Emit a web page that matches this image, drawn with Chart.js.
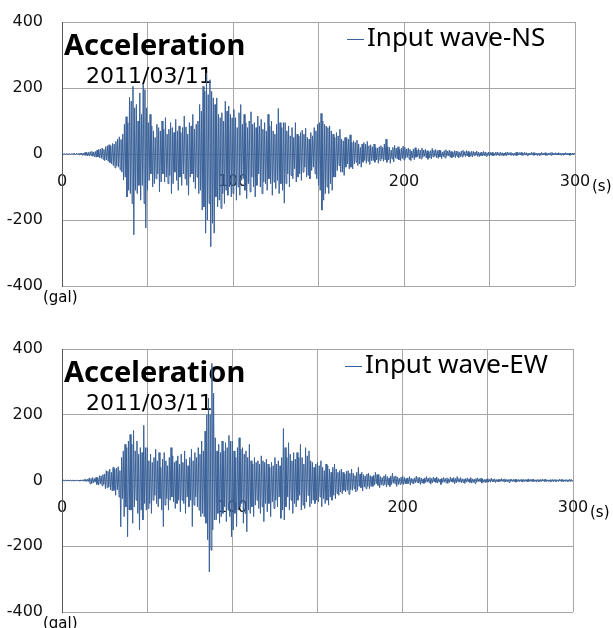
<!DOCTYPE html>
<html>
<head>
<meta charset="utf-8">
<script src="https://cdn.jsdelivr.net/npm/chart.js@4/dist/chart.umd.min.js"></script>
<style>
  body { margin: 0; background: #fff; }
  canvas { display: block; }
</style>
</head>
<body>
<canvas id="chartNS" width="613" height="316"></canvas>
<canvas id="chartEW" width="613" height="312"></canvas>
<script>
// sampling step of the read-off waveforms (s)
const timeStep = 0.5;

// NS acceleration (gal), every 0.5 s from 0 to 300 s (one row = 10 s)
const nsWave = [
  0, 1, -1, 1, -1, 1, -1, 1, -1, 1, -1, 1, -1, 2, -1, 1, -2, 2, -1, 2,
  -2, 3, -2, 3, -4, 3, -4, 5, -4, 5, -6, 5, -6, 7, -5, 8, -7, 6, -9, 8,
  -10, 12, -9, 14, -12, 15, -13, 18, -16, 14, -20, 22, -18, 25, -22, 28, -26, 24, -30, 32,
  -35, 30, -42, 38, -36, 45, -40, 52, -48, 44, -55, 60, -79, 90, -70, 113, -130, 95, -110, 172,
  -120, 160, -150, 205, -245, 140, -110, 150, -120, 100, -95, 185, -140, 120, -95, 210, -150, 195, -224, 140,
  -110, 95, -80, 120, -60, 85, -100, 70, -90, 50, -75, 90, -60, 80, -115, 70, -85, 100, -60, 75,
  -85, 110, -70, 60, -90, 75, -65, 95, -120, 80, -90, 65, -55, 105, -80, 70, -110, 85, -70, 65,
  -95, 80, -60, 115, -75, 82, -95, 60, -125, 95, -70, 85, -60, 120, -85, 75, -105, 90, -70, 100,
  -120, 150, -110, 130, -170, 205, -160, 190, -240, 245, -200, 180, -150, 225, -281, 190, -210, 170, -240, 150,
  -130, 170, -160, 120, -140, 110, -165, 125, -120, 100, -150, 160, -110, 130, -125, 145, -100, 120, -130, 110,
  -120, 135, -90, 110, -140, 80, -100, 125, -125, 150, -80, 90, -75, 120, -110, 95, -135, 80, -90, 100,
  -115, 128, -70, 90, -100, 95, -130, 80, -95, 115, -60, 85, -100, 105, -120, 75, -85, 95, -90, 70,
  -110, 120, -75, 85, -90, 100, -125, 70, -85, 60, -105, 90, -80, 138, -120, 95, -90, 80, -110, 95,
  -149, 95, -90, 70, -60, 85, -100, 55, -65, 80, -75, 50, -45, 95, -85, 60, -70, 55, -60, 65,
  -80, 72, -55, 60, -40, 78, -70, 50, -65, 45, -75, 65, -50, 55, -40, 80, -60, 70, -75, 90,
  -95, 95, -110, 123, -170, 100, -140, 90, -120, 85, -100, 80, -120, 85, -90, 70, -110, 60, -70, 50,
  -70, 65, -50, 55, -35, 75, -55, 45, -55, 40, -65, 50, -40, 50, -30, 45, -45, 58, -40, 35,
  -45, 40, -30, 35, -25, 42, -35, 30, -30, 20, -40, 30, -25, 35, -20, 30, -28, 38, -22, 25,
  -32, 28, -20, 22, -20, 30, -25, 20, -18, 18, -28, 22, -20, 25, -15, 20, -22, 30, -18, 45,
  -25, 22, -18, 20, -28, 12, -15, 20, -24, 26, -12, 18, -15, 22, -18, 15, -20, 18, -14, 24,
  -18, 20, -12, 15, -10, 18, -16, 14, -20, 9, -12, 15, -17, 19, -10, 12, -8, 16, -14, 12,
  -15, 18, -10, 12, -7, 14, -12, 10, -16, 8, -12, 10, -15, 17, -9, 11, -7, 14, -11, 10,
  -13, 12, -9, 10, -14, 6, -8, 10, -12, 13, -7, 9, -6, 12, -10, 8, -11, 6, -9, 10,
  -11, 9, -7, 8, -12, 5, -8, 9, -9, 11, -5, 7, -8, 10, -6, 8, -9, 5, -7, 8,
  -9, 8, -5, 6, -4, 9, -7, 6, -8, 4, -5, 6, -6, 8, -5, 6, -7, 4, -5, 6,
  -6, 5, -4, 5, -6, 3, -4, 5, -5, 6, -3, 4, -5, 5, -4, 4, -6, 3, -4, 5,
  -5, 6, -3, 4, -3, 5, -4, 3, -5, 3, -4, 5, -5, 6, -3, 4, -3, 5, -4, 3,
  -4, 5, -3, 4, -5, 3, -4, 3, -3, 5, -3, 4, -4, 4, -3, 3, -5, 3, -4, 3,
  -4, 5, -3, 3, -3, 4, -4, 3, -4, 3, -3, 4, -4, 5, -3, 3, -3, 4, -3, 3,
  -3, 4, -3, 3, -4, 3, -3, 3, -3, 4, -3, 3, -3, 3, -4, 3, -3, 3, -3, 3,
  0
];

// EW acceleration (gal), every 0.5 s from 0 to 300 s (one row = 10 s)
const ewWave = [
  0, -1, 1, -1, 1, -1, 1, -1, 1, -1, 1, -1, 1, -1, 1, -1, 1, -2, 1, -1,
  1, -2, 2, -1, 2, -2, 3, -2, 3, -3, 4, -3, 8, -10, 6, -9, 9, -7, 6, -5,
  10, -12, 8, -14, 15, -10, 14, -16, 18, -12, 20, -25, 30, -22, 28, -20, 35, -28, 25, -32,
  40, -30, 35, -45, 38, -28, 42, -50, 30, -141, 70, -55, 90, -110, 110, -80, 100, -171, 120, -90,
  140, -90, 110, -130, 152, -80, 90, -60, 120, -100, 80, -150, 100, -90, 85, -120, 168, -70, 100, -90,
  100, -85, 60, -70, 80, -100, 55, -60, 70, -45, 95, -70, 60, -80, 85, -55, 40, -90, 65, -140,
  85, -75, 60, -55, 45, -90, 70, -60, 100, -50, 75, -65, 55, -85, 60, -70, 75, -60, 50, -95,
  80, -60, 55, -70, 90, -100, 65, -50, 45, -80, 70, -60, 95, -140, 60, -75, 85, -50, 70, -80,
  100, -90, 80, -110, 120, -100, 90, -110, 150, -130, 200, -180, 250, -278, 200, -212, 356, -150, 265, -120,
  130, -120, 90, -100, 110, -130, 85, -110, 120, -100, 90, -80, 115, -125, 100, -90, 137, -110, 120, -171,
  120, -150, 90, -100, 70, -140, 100, -90, 130, -80, 95, -70, 100, -130, 80, -100, 90, -156, 70, -90,
  110, -100, 60, -80, 50, -110, 70, -75, 55, -60, 60, -85, 50, -100, 75, -80, 60, -125, 55, -70,
  65, -95, 50, -70, 40, -110, 55, -65, 45, -85, 70, -60, 50, -80, 60, -50, 45, -115, 70, -90,
  158, -120, 100, -80, 70, -50, 115, -90, 80, -60, 60, -100, 85, -70, 65, -80, 85, -60, 70, -45,
  110, -90, 70, -75, 50, -85, 100, -65, 75, -45, 90, -80, 60, -70, 55, -60, 40, -70, 50, -60,
  55, -65, 45, -50, 60, -80, 40, -55, 30, -70, 50, -60, 45, -75, 35, -50, 25, -60, 40, -45,
  50, -55, 35, -40, 25, -45, 30, -35, 35, -40, 25, -30, 20, -35, 28, -30, 30, -42, 22, -28,
  35, -30, 22, -25, 15, -35, 25, -30, 40, -18, 20, -22, 25, -32, 18, -20, 14, -25, 20, -18,
  22, -25, 15, -18, 12, -18, 16, -14, 25, -10, 18, -15, 18, -22, 12, -14, 9, -15, 14, -12,
  18, -20, 12, -14, 8, -18, 14, -12, 22, -8, 12, -10, 14, -18, 10, -12, 7, -12, 10, -9,
  14, -12, 9, -10, 6, -10, 8, -9, 12, -14, 7, -8, 5, -10, 8, -7, 13, -6, 9, -8,
  10, -12, 7, -8, 5, -9, 8, -6, 12, -5, 7, -6, 9, -11, 6, -7, 10, -4, 7, -6,
  11, -8, 6, -5, 4, -12, 7, -6, 9, -5, 6, -7, 8, -9, 5, -6, 10, -4, 6, -5,
  9, -10, 6, -7, 12, -4, 6, -5, 9, -7, 5, -6, 5, -9, 6, -5, 8, -4, 5, -6,
  9, -8, 5, -6, 4, -9, 6, -5, 8, -3, 5, -4, 7, -8, 4, -5, 3, -7, 4, -5,
  6, -5, 4, -5, 7, -3, 4, -4, 5, -6, 3, -4, 3, -4, 4, -3, 6, -3, 4, -4,
  5, -4, 3, -4, 3, -6, 4, -3, 4, -3, 3, -4, 4, -5, 3, -3, 3, -4, 3, -3,
  4, -5, 3, -3, 3, -3, 3, -4, 5, -3, 3, -3, 4, -3, 3, -3, 2, -5, 3, -3,
  3, -4, 3, -3, 4, -2, 3, -3, 4, -3, 2, -3, 2, -4, 3, -3, 3, -4, 3, -3,
  3, -3, 2, -3, 4, -2, 3, -3, 3, -4, 2, -3, 3, -3, 2, -3, 4, -3, 3, -3,
  0
];

// axis ticks
const xLabelTicks = [0, 100, 200, 300];
const yTicks = [-400, -200, 0, 200, 400];

const waveColor = '#3a6198';
const gridColor = '#a6a6a6';
const tickFont = { family: 'DejaVu Sans', size: 16 };

// title, date, legend and unit labels drawn over the plot
const overlay = {
  id: 'overlay',
  beforeDatasetsDraw(chart, args, opts) {
    const { ctx, chartArea: a } = chart;
    ctx.save();
    ctx.fillStyle = '#000';
    ctx.textBaseline = 'alphabetic';
    ctx.textAlign = 'left';
    ctx.font = 'bold 29px "Noto Sans"';
    ctx.fillText(opts.title, a.left + 2, a.top + 33);
    ctx.font = '22px "DejaVu Sans"';
    ctx.fillText(opts.date, a.left + 24, a.top + 61);
    ctx.restore();
  },
  afterDraw(chart, args, opts) {
    const { ctx, chartArea: a, scales } = chart;
    const ds = chart.data.datasets[0];
    ctx.save();
    // legend
    const ly = a.top + 17;
    ctx.strokeStyle = ds.borderColor;
    ctx.lineWidth = 1;
    ctx.beginPath();
    ctx.moveTo(a.right - 228, ly + 0.5);
    ctx.lineTo(a.right - 211, ly + 0.5);
    ctx.stroke();
    ctx.fillStyle = '#000';
    ctx.font = '26px "Noto Sans"';
    ctx.textBaseline = 'middle';
    ctx.textAlign = 'left';
    ctx.fillText(ds.label, a.right - 208, ly);
    // units
    ctx.font = '15px "DejaVu Sans"';
    ctx.fillText('(s)', a.right + 17, scales.y.getPixelForValue(0) + 33);
    ctx.fillText('(gal)', 43, a.bottom + 12);
    ctx.restore();
  }
};

function makeChart(id, label, values, pad, yWidth) {
  const points = values.map((v, i) => ({ x: i * timeStep, y: v }));
  return new Chart(document.getElementById(id), {
    type: 'line',
    data: {
      datasets: [{
        label: label,
        data: points,
        borderColor: waveColor,
        borderWidth: 1,
        pointRadius: 0,
        tension: 0,
        fill: false
      }]
    },
    options: {
      responsive: false,
      animation: false,
      events: [],
      layout: { padding: pad },
      plugins: {
        legend: { display: false },
        tooltip: { enabled: false },
        overlay: { title: 'Acceleration', date: '2011/03/11' }
      },
      scales: {
        x: {
          type: 'linear',
          min: 0,
          max: 300,
          position: { y: 0 },
          // invisible tick marks give the label offset below the zero line
          grid: { color: gridColor, drawTicks: true, tickLength: 18, tickColor: 'rgba(0,0,0,0)' },
          border: { display: false },
          ticks: {
            stepSize: 50,
            autoSkip: false,
            maxRotation: 0,
            padding: 0,
            color: '#111',
            font: tickFont,
            callback: v => xLabelTicks.includes(v) ? String(v) : ''
          }
        },
        y: {
          min: yTicks[0],
          max: yTicks[yTicks.length - 1],
          grid: { color: gridColor, drawTicks: true, tickLength: 19, tickColor: 'rgba(0,0,0,0)' },
          border: { color: '#595959' },
          ticks: {
            stepSize: 200,
            padding: 0,
            color: '#111',
            font: tickFont
          },
          afterFit: s => { s.width = yWidth; }
        }
      }
    },
    plugins: [overlay]
  });
}

makeChart('chartNS', 'Input wave-NS', nsWave, { top: 22, right: 38, bottom: 30, left: 0 }, 62);
makeChart('chartEW', 'Input wave-EW', ewWave, { top: 33, right: 40, bottom: 16, left: 0 }, 62);
</script>
</body>
</html>
